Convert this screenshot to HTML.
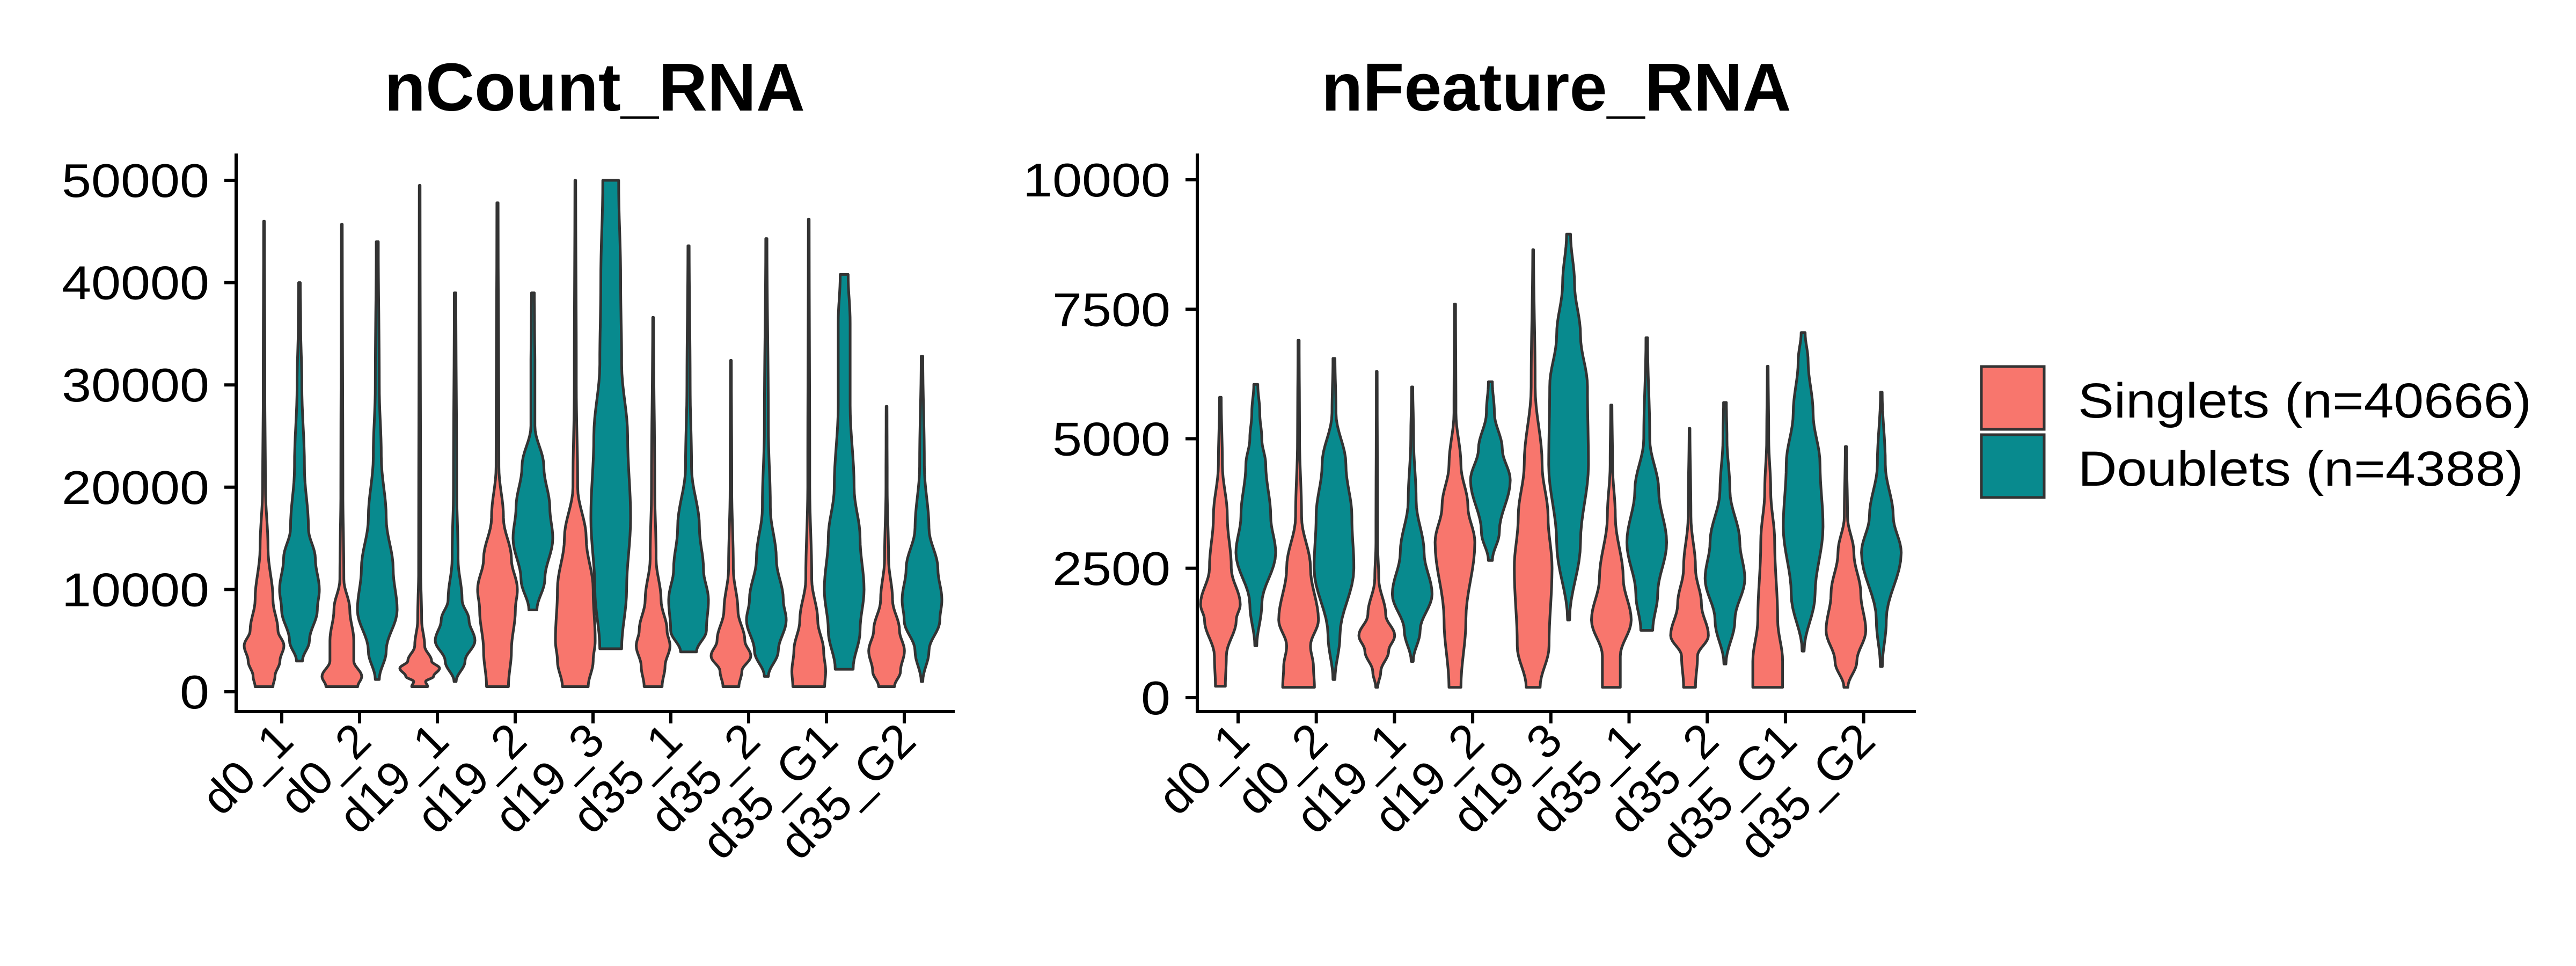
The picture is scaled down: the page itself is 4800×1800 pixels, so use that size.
<!DOCTYPE html>
<html><head><meta charset="utf-8"><style>
html,body{margin:0;padding:0;background:#fff;}
svg{display:block;font-family:"Liberation Sans",sans-serif;}
</style></head><body>
<svg id="chart" width="4800" height="1800" viewBox="0 0 4800 1800" xmlns="http://www.w3.org/2000/svg">
<rect width="4800" height="1800" fill="#fff"/>
<g id="p1"></g>
<g id="p2"></g>
<g id="legend">
  <rect x="3692" y="683" width="117" height="117" fill="#F8766D" stroke="#333" stroke-width="5"/>
  <rect x="3692" y="810" width="117" height="117" fill="#088A8E" stroke="#333" stroke-width="5"/>
  <text x="3872" y="778" font-size="92" textLength="845" lengthAdjust="spacingAndGlyphs">Singlets (n=40666)</text>
  <text x="3872" y="905" font-size="92" textLength="830" lengthAdjust="spacingAndGlyphs">Doublets (n=4388)</text>
</g>
</svg>
<script>
const categories = ["d0_1","d0_2","d19_1","d19_2","d19_3","d35_1","d35_2","d35_G1","d35_G2"];
const ncountTicks = [0,10000,20000,30000,40000,50000];
const nfeatureTicks = [0,2500,5000,7500,10000];
// nCount_RNA (values in thousands): [value, relative width]
const ncountSinglets = [
 [[0.5,.45],[1.5,.55],[3,.8],[4.5,1],[6,.7],[9,.45],[14,.2],[20,.07],[30,.04],[46,.02]],
 [[0.5,.8],[1.5,1],[3,.6],[5,.6],[8,.4],[11,.1],[20,.05],[45.7,.02]],
 [[0.5,.4],[1,.3],[1.5,.7],[2.3,1],[3,.6],[4.5,.25],[7,.1],[12,.05],[49.5,.02]],
 [[0.5,.55],[4,.7],[8,.9],[10,1],[13,.7],[17,.3],[22,.07],[47.8,.03]],
 [[0.5,.65],[3,.9],[5,1],[10,.9],[15,.55],[20,.12],[30,.05],[50,.02]],
 [[0.5,.45],[2.5,.6],[4.5,.85],[6,.7],[9,.4],[13,.15],[20,.08],[36.6,.02]],
 [[0.5,.4],[2,.55],[3.5,1],[5,.7],[8,.35],[12,.12],[20,.04],[32.4,.02]],
 [[0.5,.8],[2,.85],[4,.75],[7,.45],[11,.15],[20,.05],[46.2,.02]],
 [[0.5,.4],[2,.7],[4,.9],[6,.65],[9,.3],[13,.1],[20,.03],[27.9,.02]]
];
const ncountDoublets = [
 [[3,.15],[5,.5],[8,.9],[10,1],[13,.8],[16,.45],[22,.25],[30,.12],[36,.06],[40,.04]],
 [[1.2,.1],[4,.45],[8,1],[12,.8],[17,.45],[23,.2],[30,.1],[44,.05]],
 [[1,.05],[3,.5],[5,1],[7,.7],[9,.35],[13,.15],[20,.08],[39,.04]],
 [[8,.2],[11,.6],[15,1],[18,.85],[22,.55],[26,.1],[32,.1],[36,.08],[39,.07]],
 [[4.2,.55],[10,.8],[17,1],[25,.85],[32,.55],[40,.5],[50,.4]],
 [[3.9,.4],[6,.9],[9,1],[12,.75],[16,.55],[22,.15],[30,.08],[43.6,.03]],
 [[1.5,.1],[4,.6],[7,1],[9,.85],[13,.5],[18,.2],[26,.1],[44.3,.03]],
 [[2.2,.45],[6,.8],[10,1],[15,.8],[20,.5],[28,.3],[36,.3],[40.8,.2]],
 [[1,.04],[4,.35],[7,.9],[9,1],[12,.8],[16,.35],[22,.12],[32.8,.04]]
];
const nfeatureSinglets = [
 [[220,.25],[800,.3],[1500,.8],[1800,1],[2500,.55],[3500,.35],[4500,.1],[5800,.04]],
 [[200,.8],[600,.75],[1000,.6],[1500,1],[2500,.6],[3500,.15],[5000,.05],[6900,.03]],
 [[200,.05],[500,.2],[900,.6],[1200,.9],[1600,.45],[2300,.1],[3000,.04],[6300,.02]],
 [[200,.3],[1500,.55],[3000,1],[3700,.65],[4500,.3],[5500,.05],[7600,.03]],
 [[200,.35],[1000,.8],[2500,.95],[3500,.75],[4500,.45],[6000,.1],[8650,.02]],
 [[200,.45],[800,.45],[1500,1],[2300,.6],[3500,.2],[4500,.06],[5650,.03]],
 [[200,.3],[800,.4],[1200,.95],[1800,.6],[2500,.3],[3500,.07],[5200,.02]],
 [[200,.75],[700,.75],[1500,.5],[3000,.35],[4000,.15],[5000,.05],[6400,.02]],
 [[200,.1],[700,.55],[1300,1],[2000,.75],[2800,.4],[3500,.08],[4850,.03]]
];
const nfeatureDoublets = [
 [[1000,.05],[1800,.3],[2800,1],[3500,.75],[4500,.5],[5000,.3],[5500,.2],[6050,.1]],
 [[350,.05],[1200,.3],[2500,1],[3500,.9],[4500,.6],[5500,.1],[6550,.05]],
 [[700,.05],[1300,.4],[2000,1],[2800,.6],[3800,.2],[5000,.07],[6000,.03]],
 [[2650,.1],[3200,.45],[4200,1],[4800,.6],[5500,.2],[6100,.1]],
 [[1500,.05],[3000,.6],[4500,1],[6000,.95],[7000,.6],[8000,.3],[8950,.1]],
 [[1300,.3],[2000,.55],[3000,1],[4000,.6],[5000,.15],[6950,.04]],
 [[650,.05],[1500,.5],[2300,1],[3000,.75],[4000,.25],[5000,.1],[5700,.07]],
 [[900,.05],[2000,.6],[3300,1],[4500,.85],[5500,.5],[6500,.25],[7050,.1]],
 [[600,.05],[1500,.25],[2800,1],[3500,.6],[4500,.2],[5900,.04]]
];

const NS="http://www.w3.org/2000/svg";
function mk(tag, attrs, parent){const e=document.createElementNS(NS,tag);for(const k in attrs)e.setAttribute(k,attrs[k]);parent.appendChild(e);return e;}

function drawPanel(g, cfg){
  const yScale = v => cfg.y0 + (v - 0)/(cfg.vmax) * (cfg.y1 - cfg.y0);
  const xScale = i => cfg.x0 + i*cfg.step;
  const t=mk('text',{x:cfg.titleX,y:206,'font-size':126,'font-weight':'bold','text-anchor':'middle'},g);
  t.textContent=cfg.title;
  
  
  const halfMax=37;
  [[cfg.sing,'#F8766D',-33],[cfg.doub,'#088A8E',33]].forEach(([series,color,off])=>{
    series.forEach((knots,i)=>{
      const cx=xScale(i)+off;
      const pts=[];
      for(let k=0;k<knots.length-1;k++){
        const [v0,w0]=knots[k],[v1,w1]=knots[k+1];
        for(let s=0;s<8;s++){const f=s/8;const e=(1-Math.cos(Math.PI*f))/2;pts.push([v0+(v1-v0)*f,w0+(w1-w0)*e]);}
      }
      pts.push(knots[knots.length-1]);
      const right=pts.map(([v,w])=>[cx+w*halfMax,yScale(v*cfg.unit)]);
      const left=pts.slice().reverse().map(([v,w])=>[cx-w*halfMax,yScale(v*cfg.unit)]);
      const d='M'+right.concat(left).map(p=>p[0].toFixed(1)+','+p[1].toFixed(1)).join('L')+'Z';
      const p=mk('path',{d:d,fill:color,stroke:'#333','stroke-width':5,'stroke-linejoin':'round'},g);
      
      
    });
  });
  const ya=mk('line',{x1:cfg.axisX,y1:286,x2:cfg.axisX,y2:1329,stroke:'#000','stroke-width':6},g);
  
  
  const xa=mk('line',{x1:cfg.axisX-3,y1:1326,x2:cfg.axisEnd,y2:1326,stroke:'#000','stroke-width':6},g);
  
  
  cfg.ticks.forEach(v=>{
    const y=yScale(v);
    mk('line',{x1:cfg.axisX-22,y1:y,x2:cfg.axisX,y2:y,stroke:'#000','stroke-width':6},g);
    const s=String(v);
    const tl=mk('text',{x:cfg.axisX-50,y:y+31,'font-size':88,'text-anchor':'end',textLength:s.length*55,lengthAdjust:'spacingAndGlyphs'},g);
    tl.textContent=s;
    
    
  });
  categories.forEach((c,i)=>{
    const x=xScale(i);
    mk('line',{x1:x,y1:1326,x2:x,y2:1348,stroke:'#000','stroke-width':6},g);
    const tl=mk('text',{x:x+26,y:1385,'font-size':88,'text-anchor':'end',transform:`rotate(-45 ${x+26} 1385)`},g);
    tl.textContent=c;
    
    
  });
}
drawPanel(document.getElementById('p1'),{title:'nCount_RNA',titleX:1108,x0:525,step:145,axisX:440,axisEnd:1779,y0:1289,y1:336,vmax:50000,unit:1000,ticks:ncountTicks,sing:ncountSinglets,doub:ncountDoublets});
drawPanel(document.getElementById('p2'),{title:'nFeature_RNA',titleX:2900,x0:2307,step:145.7,axisX:2231,axisEnd:3570,y0:1300,y1:335,vmax:10000,unit:1,ticks:nfeatureTicks,sing:nfeatureSinglets,doub:nfeatureDoublets});
</script>
</body></html>
